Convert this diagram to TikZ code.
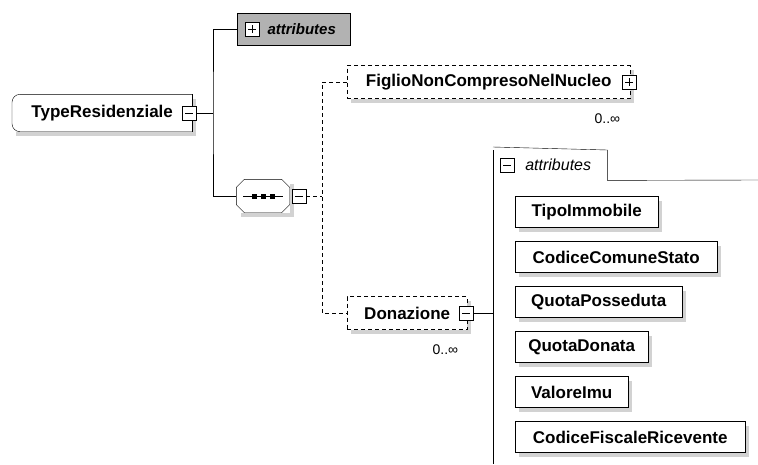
\documentclass[tikz,border=0pt]{standalone}
\usepackage{fontspec}
\setmainfont{Liberation Sans}
\usetikzlibrary{positioning, shadows}
\tikzset{
    every node/.style={font=\fontsize{17}{20}\selectfont\bfseries}, % element names in bold
    line width=1.1pt,
    shade/.style={drop shadow={shadow xshift=4pt, shadow yshift=-4pt, fill=gray!35, opacity=1}}, % grey shadow right and below
    box/.style={draw, fill=white, inner sep=0pt, minimum height=31pt, shade},
    optbox/.style={box, minimum height=33pt, dash pattern=on 4pt off 3pt}, % optional element
    root/.style={fill=white, inner sep=0pt, shade},
    seqbox/.style={fill=white, minimum width=53pt, minimum height=33pt, inner sep=0pt, shade},
    pm/.style={draw, solid, fill=white, minimum size=14pt, inner sep=0pt},
    collapse/.style={pm, path picture={
        \draw ([xshift=3pt]path picture bounding box.west) -- ([xshift=-3pt]path picture bounding box.east);}},
    expand/.style={pm, path picture={
        \draw ([xshift=3pt]path picture bounding box.west) -- ([xshift=-3pt]path picture bounding box.east);
        \draw ([yshift=-3pt]path picture bounding box.north) -- ([yshift=3pt]path picture bounding box.south);}},
    attgrp/.style={draw, fill=gray!60, minimum width=113pt, minimum height=32pt, inner sep=0pt,
        font=\fontsize{15}{18}\selectfont\bfseries\itshape},
    tab/.style={minimum width=114pt, minimum height=30pt, inner sep=0pt, font=\fontsize{16}{19}\selectfont\itshape},
    mult/.style={inner sep=0pt, font=\fontsize{14}{16}\selectfont}, % occurrence label
}

\begin{document}
\begin{tikzpicture}[x=1pt, y=-1pt]
\useasboundingbox (0,0) rectangle (758,464);

% root element
\node[root, minimum width=180pt, minimum height=37pt, anchor=west] (tr) at (12,113) {TypeResidenziale\hspace{7pt}};
\draw[rounded corners=8pt] (tr.north east) -- (tr.north west) -- (tr.south west) -- (tr.south east);
\draw (tr.north east) -- (tr.south east);
\node[collapse] (trm) at ([xshift=-3pt]tr.east) {};

% its attributes (collapsed)
\node[attgrp, anchor=west] (att) at (237,29) {\hspace{16pt}attributes};
\node[expand] (attp) at ([xshift=15pt]att.west) {};

% sequence
\node[seqbox] (seq) at (263,196) {};
\draw ([xshift=8pt]seq.north west) -- ([xshift=-8pt]seq.north east) -- ([yshift=-8pt]seq.north east)
    -- ([yshift=8pt]seq.south east) -- ([xshift=-8pt]seq.south east) -- ([xshift=8pt]seq.south west)
    -- ([yshift=8pt]seq.south west) -- ([yshift=-8pt]seq.north west) -- cycle;
\draw ([xshift=7pt]seq.west) -- ([xshift=-7pt]seq.east);
\foreach \d in {-9,0,9}
    \fill ([xshift=\d pt]seq.center) +(-2.5,-2.5) rectangle +(2.5,2.5);
\node[collapse, right=2pt of seq] (seqm) {};

% children
\node[optbox, minimum width=283pt, anchor=west] (fig) at (347,82) {FiglioNonCompresoNelNucleo};
\node[expand] (figp) at ([xshift=-1pt]fig.east) {};
\node[mult, anchor=north east] (figmult) at ([xshift=-10pt,yshift=-15pt]fig.south east) {0..∞};

\node[optbox, minimum width=120pt, anchor=west] (don) at (347,313) {Donazione};
\node[collapse] (donm) at ([xshift=-1pt]don.east) {};
\node[mult, anchor=north east] (donmult) at ([xshift=-9pt,yshift=-15pt]don.south east) {0..∞};

% attributes of Donazione
\node[tab, anchor=north west] (tab) at (493,150) {\hspace{16pt}attributes};
\node[collapse] (tabm) at ([xshift=14pt]tab.west) {};
\coordinate (grpend) at (758,180);
\coordinate (grpbot) at (493,464);
\draw ([yshift=3pt]tab.north west) -- (tab.north east) -- (tab.south east) -- (grpend);
\draw (tab.north west) -- (grpbot);

\foreach \name/\w [count=\i from 0] in {TipoImmobile/143, CodiceComuneStato/202, QuotaPosseduta/167,
        QuotaDonata/133, ValoreImu/113, CodiceFiscaleRicevente/230}
    \node[box, minimum width=\w pt, anchor=west] (a\i) at (515,{212+45*\i}) {\name};

% connectors
\coordinate (trunk) at (213,113);
\draw (trm.east) -- (trunk);
\draw (att.west) -| (trunk) |- (seq.west);
\coordinate (choice) at (322,196);
\draw[dash pattern=on 4pt off 3pt] (seqm.east) -- (choice);
\draw[dash pattern=on 4pt off 3pt] (fig.west) -| (choice) |- (don.west);
\draw (donm.east) -- (donm.east -| tab.west);
\end{tikzpicture}
\end{document}
